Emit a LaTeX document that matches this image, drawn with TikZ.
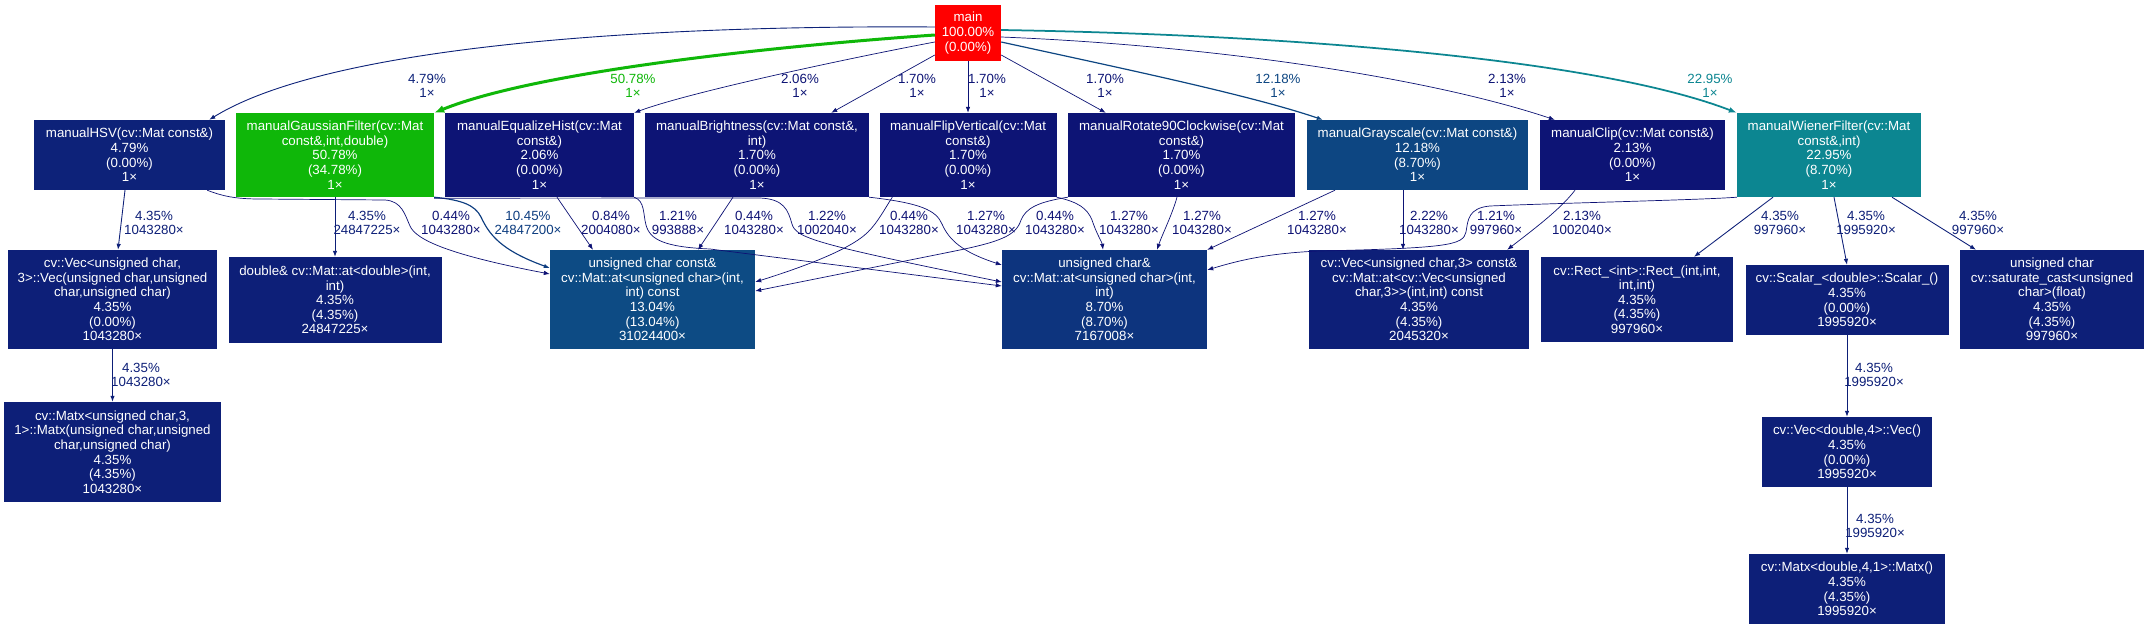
\documentclass[tikz,border=0pt]{standalone}
\usepackage{fontspec}
\setmainfont{Liberation Sans}
\usetikzlibrary{arrows.meta}
\definecolor{cMain}{RGB}{255,0,0}
\definecolor{cGauss}{RGB}{15,183,9}
\definecolor{cWien}{RGB}{12,134,145}
\definecolor{cConst}{RGB}{13,75,132}
\definecolor{cGray}{RGB}{13,70,130}
\definecolor{cTen}{RGB}{13,61,128}
\definecolor{cEight}{RGB}{13,52,126}
\definecolor{cHsv}{RGB}{13,34,121}
\definecolor{cFour}{RGB}{13,31,120}
\definecolor{cLow}{RGB}{13,20,117}
\definecolor{cTiny}{RGB}{13,17,116}
\newcommand{\callfont}{\fontsize{13.3}{14.6}\selectfont}

\begin{document}
\begin{tikzpicture}[x=1pt, y=-1pt, font=\callfont,
    fn/.style={fill=#1, text=white, align=center, inner sep=0pt},
    call/.style={draw=#1, line width=0.7pt, -{Latex[length=6pt,width=4.5pt]}},
    call/.default=cTiny,
    mid/.style={call=cFour, line width=0.87pt},
    elab/.style={text=#1, align=center, inner sep=0pt},
    elab/.default=cTiny]
  \fill[white] (0,0) rectangle (2149,629);
  \useasboundingbox (0,0) rectangle (2149,629);

  % functions
  \node[fn=cMain, minimum width=66pt, minimum height=56pt] (main) at (968,33) {main\\100.00\%\\(0.00\%)};

  \node[fn=cHsv, minimum width=191pt, minimum height=70pt] (hsv) at (129.5,155) {manualHSV(cv::Mat const\&)\\4.79\%\\(0.00\%)\\1×};
  \node[fn=cGauss, minimum width=198pt, minimum height=84pt] (gauss) at (335,155) {manualGaussianFilter(cv::Mat\\const\&,int,double)\\50.78\%\\(34.78\%)\\1×};
  \node[fn=cLow, minimum width=189pt, minimum height=84pt] (eqh) at (539.5,155) {manualEqualizeHist(cv::Mat\\const\&)\\2.06\%\\(0.00\%)\\1×};
  \node[fn=cLow, minimum width=224pt, minimum height=84pt] (bright) at (757,155) {manualBrightness(cv::Mat const\&,\\int)\\1.70\%\\(0.00\%)\\1×};
  \node[fn=cLow, minimum width=177pt, minimum height=84pt] (flip) at (968,155) {manualFlipVertical(cv::Mat\\const\&)\\1.70\%\\(0.00\%)\\1×};
  \node[fn=cLow, minimum width=227pt, minimum height=84pt] (rot) at (1181.5,155) {manualRotate90Clockwise(cv::Mat\\const\&)\\1.70\%\\(0.00\%)\\1×};
  \node[fn=cGray, minimum width=221pt, minimum height=70pt] (gray) at (1417.5,155) {manualGrayscale(cv::Mat const\&)\\12.18\%\\(8.70\%)\\1×};
  \node[fn=cLow, minimum width=185pt, minimum height=70pt] (clip) at (1632.5,155) {manualClip(cv::Mat const\&)\\2.13\%\\(0.00\%)\\1×};
  \node[fn=cWien, minimum width=184pt, minimum height=84pt] (wiener) at (1829,155) {manualWienerFilter(cv::Mat\\const\&,int)\\22.95\%\\(8.70\%)\\1×};

  \node[fn=cFour, minimum width=209pt, minimum height=99pt] (vecu) at (112.5,299.5) {cv::Vec<unsigned char,\\3>::Vec(unsigned char,unsigned\\char,unsigned char)\\4.35\%\\(0.00\%)\\1043280×};
  \node[fn=cFour, minimum width=213pt, minimum height=86pt] (atd) at (335,300) {double\& cv::Mat::at<double>(int,\\int)\\4.35\%\\(4.35\%)\\24847225×};
  \node[fn=cConst, minimum width=205pt, minimum height=99pt] (atcc) at (652.5,299.5) {unsigned char const\&\\cv::Mat::at<unsigned char>(int,\\int) const\\13.04\%\\(13.04\%)\\31024400×};
  \node[fn=cEight, minimum width=205pt, minimum height=99pt] (atc) at (1104.5,299.5) {unsigned char\&\\cv::Mat::at<unsigned char>(int,\\int)\\8.70\%\\(8.70\%)\\7167008×};
  \node[fn=cFour, minimum width=220pt, minimum height=99pt] (atvec) at (1419,299.5) {cv::Vec<unsigned char,3> const\&\\cv::Mat::at<cv::Vec<unsigned\\char,3>\kern0pt>(int,int) const\\4.35\%\\(4.35\%)\\2045320×};
  \node[fn=cFour, minimum width=192pt, minimum height=85pt] (rect) at (1637,299.5) {cv::Rect\_<int>::Rect\_(int,int,\\int,int)\\4.35\%\\(4.35\%)\\997960×};
  \node[fn=cFour, minimum width=203pt, minimum height=70pt] (scalar) at (1847,300) {cv::Scalar\_<double>::Scalar\_()\\4.35\%\\(0.00\%)\\1995920×};
  \node[fn=cFour, minimum width=184pt, minimum height=99pt] (satcast) at (2052,299.5) {unsigned char\\cv::saturate\_cast<unsigned\\char>(float)\\4.35\%\\(4.35\%)\\997960×};

  \node[fn=cFour, minimum width=217pt, minimum height=100pt] (matxu) at (112.5,452) {cv::Matx<unsigned char,3,\\1>::Matx(unsigned char,unsigned\\char,unsigned char)\\4.35\%\\(4.35\%)\\1043280×};
  \node[fn=cFour, minimum width=170pt, minimum height=70pt] (vecd) at (1847,452) {cv::Vec<double,4>::Vec()\\4.35\%\\(0.00\%)\\1995920×};
  \node[fn=cFour, minimum width=196pt, minimum height=70pt] (matxd) at (1847,589) {cv::Matx<double,4,1>::Matx()\\4.35\%\\(4.35\%)\\1995920×};

  % calls from main
  \draw[call=cHsv, line width=0.9pt] ([yshift=6pt]main.west) .. controls (650,25) and (330,45) .. ([xshift=-16pt]hsv.north east);
  \draw[call=cGauss, line width=3pt, -{Latex[length=10pt,width=8pt]}] ([yshift=-2pt]main.west) .. controls (790,45) and (540,70) .. (gauss.north east);
  \draw[call=cLow] ([yshift=-9pt]main.west) .. controls (850,58) and (690,92) .. (eqh.north east);
  \draw[call=cLow] ([yshift=-22pt]main.west) -- ([xshift=-38pt]bright.north east);
  \draw[call=cLow] (main.south) -- (flip.north);
  \draw[call=cLow] ([yshift=-22pt]main.east) -- ([xshift=38pt]rot.north west);
  \draw[call=cGray, line width=1.2pt] ([yshift=-9pt]main.east) .. controls (1120,68) and (1250,95) .. ([xshift=16pt]gray.north west);
  \draw[call=cLow] ([yshift=-4pt]main.east) .. controls (1200,45) and (1420,75) .. ([xshift=15pt]clip.north west);
  \draw[call=cWien, line width=1.75pt, -{Latex[length=8pt,width=6pt]}] ([yshift=3pt]main.east) .. controls (1300,35) and (1600,60) .. (wiener.north west);

  \node[elab=cHsv] (l1) at (427,86) {4.79\%\\1×};
  \node[elab=cGauss] (l2) at (633,86) {50.78\%\\1×};
  \node[elab=cLow] (l3) at (800,86) {2.06\%\\1×};
  \node[elab=cLow] (l4) at (917,86) {1.70\%\\1×};
  \node[elab=cLow] (l5) at (987,86) {1.70\%\\1×};
  \node[elab=cLow] (l6) at (1105,86) {1.70\%\\1×};
  \node[elab=cGray] (l7) at (1278,86) {12.18\%\\1×};
  \node[elab=cLow] (l8) at (1507,86) {2.13\%\\1×};
  \node[elab=cWien] (l9) at (1710,86) {22.95\%\\1×};

  % calls from the first row
  \draw[mid] ([xshift=-4.5pt]hsv.south) -- ([xshift=5.5pt]vecu.north);
  \draw[call] ([xshift=-18pt]hsv.south east) .. controls (222,196) and (235,199) .. (260,199) -- (385,200) .. controls (402,201) and (405,215) .. (410,226) .. controls (416,240) and (450,255) .. ([yshift=25.5pt]atcc.west);
  \draw[mid] (gauss.south) -- (atd.north);
  \draw[call=cTen, line width=1.15pt] (gauss.south east) .. controls (462,200) and (475,205) .. (481,217) .. controls (489,234) and (500,250) .. ([yshift=31.5pt]atcc.west);
  \draw[call] ([yshift=-1pt]gauss.south east) -- (760,198) .. controls (784,199) and (788,210) .. (792,224) .. controls (796,238) and (815,244) .. ([yshift=17.5pt]atc.west);
  \draw[call] ([xshift=17.5pt]eqh.south) -- ([xshift=-59.5pt]atcc.north);
  \draw[call] (eqh.south east) .. controls (645,201) and (643,214) .. (646,225) .. controls (650,240) and (665,247) .. (710,249) -- ([yshift=13.5pt]atc.west);
  \draw[call] ([xshift=-24pt]bright.south) -- ([xshift=45.5pt]atcc.north);
  \draw[call] (bright.south east) .. controls (920,203) and (936,210) .. (942,224) .. controls (949,240) and (962,252) .. ([yshift=34.5pt]atc.west);
  \draw[call] ([xshift=13pt]flip.south west) .. controls (884,210) and (878,222) .. (868,232) .. controls (850,250) and (800,268) .. ([yshift=17.5pt]atcc.east);
  \draw[call] (flip.south east) .. controls (1078,202) and (1087,208) .. (1092,220) .. controls (1097,235) and (1102,242) .. ([xshift=-1.5pt]atc.north);
  \draw[call] (rot.south west) .. controls (1038,202) and (1026,208) .. (1021,220) .. controls (1016,236) and (1000,242) .. (950,252) -- ([yshift=8.5pt]atcc.east);
  \draw[call] ([xshift=-4.5pt]rot.south) .. controls (1172,215) and (1162,235) .. ([xshift=52.5pt]atc.north);
  \draw[call] ([xshift=-82.5pt]gray.south) -- (atc.north east);
  \draw[call=cLow] ([xshift=-14.5pt]gray.south) -- ([xshift=-16pt]atvec.north);
  \draw[call=cLow] ([xshift=-57.5pt]clip.south) .. controls (1560,210) and (1530,232) .. ([xshift=-22pt]atvec.north east);
  \draw[call] (wiener.south west) .. controls (1700,200) and (1560,203) .. (1490,206) .. controls (1468,208) and (1468,220) .. (1466,232) .. controls (1463,245) and (1450,248) .. (1320,251) .. controls (1270,253) and (1240,260) .. ([yshift=29.5pt]atc.east);
  \draw[mid] ([xshift=-56pt]wiener.south) -- ([xshift=57pt]rect.north);
  \draw[mid] ([xshift=5pt]wiener.south) -- (scalar.north);
  \draw[mid] ([xshift=63pt]wiener.south) -- ([xshift=-76pt]satcast.north);

  \node[elab=cFour] (l10) at (154,223) {4.35\%\\1043280×};
  \node[elab=cFour] (l11) at (367,223) {4.35\%\\24847225×};
  \node[elab] (l12) at (451,223) {0.44\%\\1043280×};
  \node[elab=cTen] (l13) at (528,223) {10.45\%\\24847200×};
  \node[elab] (l14) at (611,223) {0.84\%\\2004080×};
  \node[elab] (l15) at (678,223) {1.21\%\\993888×};
  \node[elab] (l16) at (754,223) {0.44\%\\1043280×};
  \node[elab] (l17) at (827,223) {1.22\%\\1002040×};
  \node[elab] (l18) at (909,223) {0.44\%\\1043280×};
  \node[elab] (l19) at (986,223) {1.27\%\\1043280×};
  \node[elab] (l20) at (1055,223) {0.44\%\\1043280×};
  \node[elab] (l21) at (1129,223) {1.27\%\\1043280×};
  \node[elab] (l22) at (1202,223) {1.27\%\\1043280×};
  \node[elab] (l23) at (1317,223) {1.27\%\\1043280×};
  \node[elab=cLow] (l24) at (1429,223) {2.22\%\\1043280×};
  \node[elab] (l25) at (1496,223) {1.21\%\\997960×};
  \node[elab=cLow] (l26) at (1582,223) {2.13\%\\1002040×};
  \node[elab=cFour] (l27) at (1780,223) {4.35\%\\997960×};
  \node[elab=cFour] (l28) at (1866,223) {4.35\%\\1995920×};
  \node[elab=cFour] (l29) at (1978,223) {4.35\%\\997960×};

  % lower calls
  \draw[mid] (vecu.south) -- (matxu.north);
  \draw[mid] (scalar.south) -- (vecd.north);
  \draw[mid] (vecd.south) -- (matxd.north);

  \node[elab=cFour] (l30) at (141,375) {4.35\%\\1043280×};
  \node[elab=cFour] (l31) at (1874,375) {4.35\%\\1995920×};
  \node[elab=cFour] (l32) at (1875,526) {4.35\%\\1995920×};
\end{tikzpicture}
\end{document}
